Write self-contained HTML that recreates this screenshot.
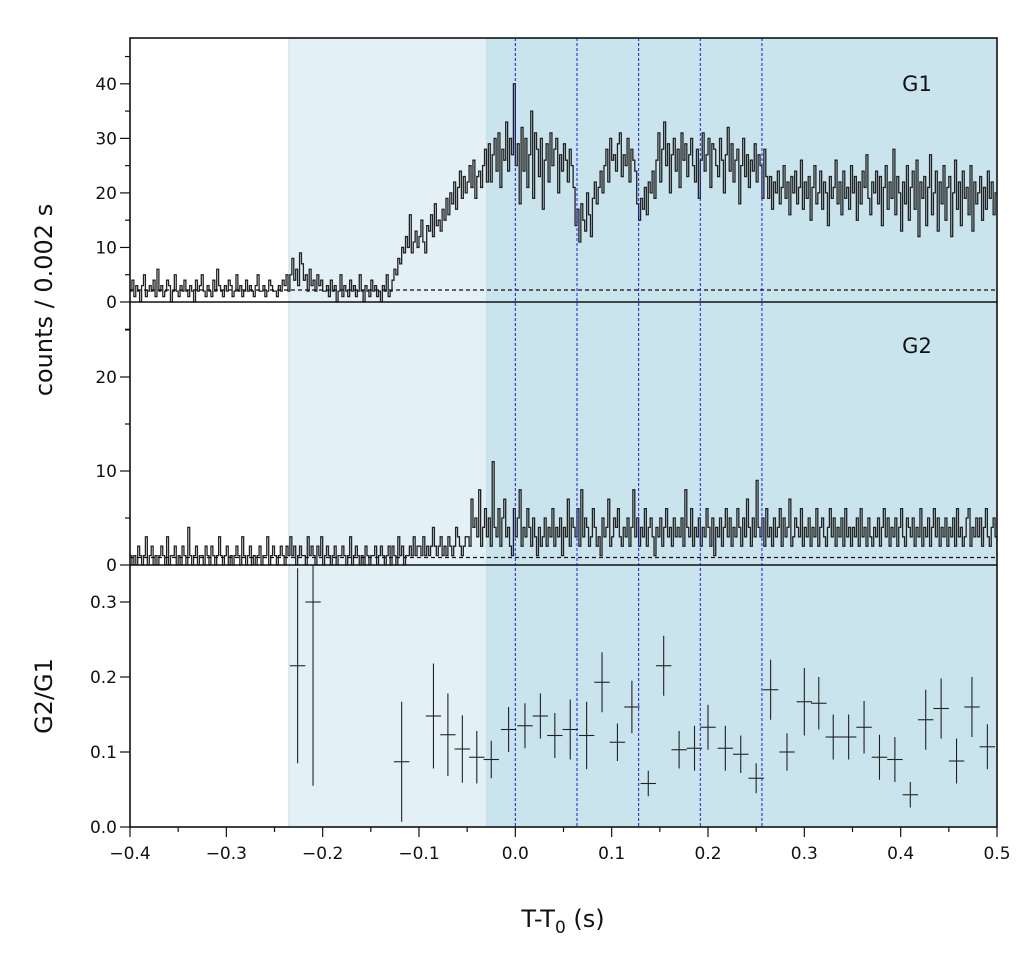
<!DOCTYPE html>
<html><head><meta charset="utf-8"><style>
body{margin:0;background:#fff}
svg{display:block;font-family:"DejaVu Sans","Liberation Sans",sans-serif}
</style></head><body>
<svg id="c" width="1034" height="965"></svg>
<script>
const g1Counts=[2,4,1,3,2,0,3,5,1,2, 3,2,4,1,6,2,3,1,2,4, 3,0,2,5,2,1,3,2,4,2, 1,3,2,0,4,2,3,5,2,1, 3,2,1,4,2,6,3,2,1,3, 2,4,3,1,2,5,2,3,1,2, 4,2,3,2,1,3,5,2,2,3, 1,2,4,3,2,2,1,3,2,4, 3,5,2,
5,8,4,6,3,9,7,4,5,2,6,3,4,2,5,3,4,2,
2,3,1,4,2,3,0,2,5,1, 3,2,1,4,2,3,1,2,5,2, 0,3,2,1,4,2,3,1,2,0, 3,2,5,1,2,
4,6,5,8,7,10,9,12,10,16, 9,11,13,10,12,15,11,9,14,13, 16,12,18,14,15,
13,17,15,19,16,20,18,22,17,21, 24,19,23,20,22,25,21,26,19,23, 24,21,25,28,22,
29,22,27,30,24,31,21,28,26,33,24,30,27,40,25,
29,18,32,24,30,21,27,35,19,31, 28,23,30,17,26,29,22,31,25,28, 30,20,27,24,29,26,22,28,25,21,
14,17,11,18,15,13,20,16,12,19,22,18,21,24,20,
25,28,22,30,26,27,24,29,31,23,27,25,30,22,28,26,24,
18,15,19,17,21,16,22,20,24,19,
26,31,22,28,33,25,29,20,27,30, 24,28,21,31,26,29,23,27,30,25, 22,28,19,26,31,24,27,30,21,29, 28,25,23,30,26,20,27,32,24,29, 22,26,28,18,25,30,23,27,21,26, 24,29,22,27,25,19,28,23,
19,23,17,22,20,24,18,21,25,19, 22,16,23,20,24,18,21,26,17,22, 19,23,15,21,25,18,20,24,17,22, 20,14,23,19,21,26,18,22,16,24, 19,21,17,25,20,23,15,22,18,24, 21,27,19,16,22,20,24,18,23,14, 21,25,17,22,19,28,16,23,20,13, 22,18,25,15,21,24,17,26,12,22, 19,23,14,21,27,16,20,24,13,22, 18,25,15,21,23,12,20,26,17,22, 14,24,19,21,16,25,13,22,18,20, 23,15,21,17,24,19,22,16,20];
const g2Counts=[1,0,1,0,2,1,0,1,3,0, 1,2,0,1,0,1,2,1,0,3, 0,1,1,2,0,1,0,2,1,0, 4,1,0,1,2,0,1,1,0,2, 1,0,2,1,0,1,3,1,0,1, 2,0,1,0,1,2,1,0,3,1, 0,1,2,0,1,0,1,2,0,1, 1,3,0,1,2,1,0,1,2,1, 0,2,1,3,1,2,0,1,2,1, 1,0,3,1,2,1,0,2,1,3, 0,1,2,1,0,1,2,0,1,1, 2,1,0,1,3,0,1,2,1,0, 1,0,2,1,0,1,1,2,0,1, 2,1,0,1,2,0,2,1,0,3, 1,2,0,1,1,2,1,3,1,2, 2,1,3,1,2,1,2,4,2,1, 2,3,1,2,1,3,2,1,2,4, 3,2,1,2,3,
3,2,7,4,5,3,8,2,4,6, 3,5,2,11,4,3,6,2,5,7, 3,4,2,1,6,3,5,8,2,4, 3,6,4,2,5,3,1,4,2,3, 5,2,4,3,6,2,4,3,5,1, 4,3,7,2,5,4,3,6,2,8, 3,5,4,2,3,6,4,2,3,1, 5,3,4,7,2,3,5,4,6,3, 2,4,3,5,2,4,8,3,5,2, 4,3,6,2,4,5,3,1,4,3, 5,2,4,6,3,4,2,5,3,4, 3,5,2,8,4,3,6,2,4,3, 5,2,4,3,6,4,2,5,1,4, 3,5,2,4,6,3,5,2,4,3, 6,4,2,5,3,7,4,2,5,3, 9,4,3,5,2,6,3,4,2,5, 3,4,6,2,5,3,4,7,2,3, 5,4,3,6,2,4,3,5,2,4, 3,6,2,4,5,3,2,4,6,3, 5,2,4,3,5,2,6,3,4,2, 4,3,5,2,6,3,4,2,5,3, 2,4,3,5,2,4,6,3,5,2, 4,3,5,2,4,6,3,2,5,4, 3,5,2,4,3,6,2,4,3,5, 2,4,6,3,5,2,4,3,5,2, 4,3,5,2,6,3,4,2,3,5, 6,2,4,3,5, 3,5,2,4,6,3,2,4,5,3, 2,6];
const binStart=-0.4, binWidth=0.002;
const g1Bkg=2.2, g2Bkg=0.8;
const ratioT=[-0.226,-0.21,-0.118,-0.085,-0.07,-0.055,-0.04,-0.025,-0.007,0.01,0.026,0.041,0.057,0.074,0.09,0.106,0.121,0.138,0.154,0.17,0.186,0.2,0.218,0.234,0.25,0.265,0.282,0.3,0.315,0.33,0.346,0.362,0.378,0.394,0.41,0.426,0.442,0.458,0.474,0.49];
const ratioVal=[0.215,0.30,0.087,0.148,0.123,0.104,0.093,0.09,0.13,0.135,0.148,0.122,0.13,0.122,0.193,0.113,0.16,0.058,0.215,0.103,0.105,0.133,0.105,0.097,0.065,0.183,0.1,0.167,0.165,0.12,0.12,0.133,0.093,0.09,0.043,0.143,0.158,0.088,0.16,0.107];
const ratioErr=[0.13,0.245,0.08,0.07,0.055,0.045,0.035,0.025,0.03,0.03,0.03,0.03,0.04,0.045,0.04,0.025,0.035,0.017,0.04,0.025,0.03,0.03,0.03,0.025,0.02,0.04,0.025,0.045,0.035,0.03,0.03,0.035,0.03,0.03,0.017,0.04,0.04,0.03,0.04,0.03];
const ratioHalfBin=0.008;
const xTicks=[-0.4,-0.3,-0.2,-0.1,0.0,0.1,0.2,0.3,0.4,0.5];
const xTickLabels=["−0.4","−0.3","−0.2","−0.1","0.0","0.1","0.2","0.3","0.4","0.5"];
const g1Ticks=[0,10,20,30,40], g2Ticks=[0,10,20], ratioTicks=[0.0,0.1,0.2,0.3];
const ratioTickLabels=["0.0","0.1","0.2","0.3"];
const bayesBlocks=[0,0.064,0.128,0.192,0.256];
const preRegion=[-0.235,-0.03], mainRegion=[-0.03,0.5];

const NS="http://www.w3.org/2000/svg", svg=document.getElementById('c');
const L=130,R=997,T=38,B=827,Y1=302,Y2=565;
const X=t=>L+(t+0.4)/0.9*(R-L);
const yA=v=>Y1-v*(Y1-T)/48.4;
const yB=v=>Y2-v*9.4;
const yC=v=>B-v*750;
function el(tag,a,p){const e=document.createElementNS(NS,tag);for(const k in a)e.setAttribute(k,a[k]);(p||svg).appendChild(e);return e;}
const clip=el('clipPath',{id:'cp'});el('rect',{x:L,y:T,width:R-L,height:B-T},clip);
const clipC=el('clipPath',{id:'cpc'});el('rect',{x:L,y:Y2,width:R-L,height:B-Y2},clipC);

const r1=el('rect',{x:X(preRegion[0]),y:T,width:X(preRegion[1])-X(preRegion[0]),height:B-T,fill:'#e3f1f6',stroke:'#bcdde6','stroke-width':1});

const r2=el('rect',{x:X(mainRegion[0]),y:T,width:X(mainRegion[1])-X(mainRegion[0]),height:B-T,fill:'#c9e4ec'});


function hist(arr,yf,name){let d='';arr.forEach((v,i)=>{const x0=X(binStart+i*binWidth),x1=X(binStart+(i+1)*binWidth),y=yf(v);d+=(i?'L':'M')+x0.toFixed(2)+','+y.toFixed(2)+'L'+x1.toFixed(2)+','+y.toFixed(2);});
const p=el('path',{d:d,fill:'none',stroke:'#222','stroke-width':1.3,'clip-path':'url(#cp)'});
}
hist(g1Counts,yA,'g1-lightcurve');hist(g2Counts,yB,'g2-lightcurve');
const b1=el('line',{x1:L,x2:R,y1:yA(g1Bkg),y2:yA(g1Bkg),stroke:'#111','stroke-width':1.2,'stroke-dasharray':'4,3'});

const b2=el('line',{x1:L,x2:R,y1:yB(g2Bkg),y2:yB(g2Bkg),stroke:'#111','stroke-width':1.2,'stroke-dasharray':'4,3'});


bayesBlocks.forEach(t=>{const l=el('line',{x1:X(t),x2:X(t),y1:T,y2:B,stroke:'#1a1aff','stroke-width':1,'stroke-dasharray':'3,2'});
});

ratioT.forEach((t,i)=>{const gp=el('g',{stroke:'#222','stroke-width':1.1,'clip-path':'url(#cpc)'});

el('line',{x1:X(t-ratioHalfBin),x2:X(t+ratioHalfBin),y1:yC(ratioVal[i]),y2:yC(ratioVal[i])},gp);
el('line',{x1:X(t),x2:X(t),y1:yC(ratioVal[i]-ratioErr[i]),y2:yC(ratioVal[i]+ratioErr[i])},gp);});

const fr=el('rect',{x:L,y:T,width:R-L,height:B-T,fill:'none',stroke:'#111','stroke-width':1.6});

[Y1,Y2].forEach(y=>{const l=el('line',{x1:L,x2:R,y1:y,y2:y,stroke:'#111','stroke-width':1.6});});

function ytick(y,len){el('line',{x1:L-len,x2:L,y1:y,y2:y,stroke:'#111','stroke-width':1.2});}
function ylabel(y,s,name){const t=el('text',{x:L-13,y:y+6,'text-anchor':'end','font-size':17,fill:'#111'});t.textContent=s;}
g1Ticks.forEach(v=>{ytick(yA(v),10);ylabel(yA(v),String(v),'g1-y-tick-label');});
for(let v=-5;v<=45;v+=5){if(v%10&&yA(v)>=T&&yA(v)<=Y1+30)ytick(yA(v),5);}
g2Ticks.forEach(v=>{ytick(yB(v),10);ylabel(yB(v),String(v),'g2-y-tick-label');});
for(let v=5;v<=25;v+=5){if(v%10)ytick(yB(v),5);}
ratioTicks.forEach((v,i)=>{ytick(yC(v),10);ylabel(yC(v),ratioTickLabels[i],'ratio-y-tick-label');});
xTicks.forEach((v,i)=>{el('line',{x1:X(v),x2:X(v),y1:B,y2:B+10,stroke:'#111','stroke-width':1.2});
const t=el('text',{x:X(v),y:B+32,'text-anchor':'middle','font-size':17,fill:'#111'});t.textContent=xTickLabels[i];

if(i<xTicks.length-1)el('line',{x1:X(v+0.05),x2:X(v+0.05),y1:B,y2:B+5,stroke:'#111','stroke-width':1.2});});

function txt(x,y,s,size,name,rot){const t=el('text',{x:x,y:y,'text-anchor':'middle','font-size':size,fill:'#111'});if(rot)t.setAttribute('transform','rotate(-90 '+x+' '+y+')');t.innerHTML=s;return t;}
txt(52,300,'counts /  0.002 s',24,'y-axis-title',true).setAttribute('xml:space','preserve');
txt(52,696,'G2/G1',24,'ratio-axis-title',true);
txt(563,927,'T-T<tspan font-size="17" dy="6">0</tspan><tspan dy="-6"> (s)</tspan>',24,'x-axis-title');
txt(917,91,'G1',21,'g1-panel-label');
txt(917,353,'G2',21,'g2-panel-label');
</script>
</body></html>
